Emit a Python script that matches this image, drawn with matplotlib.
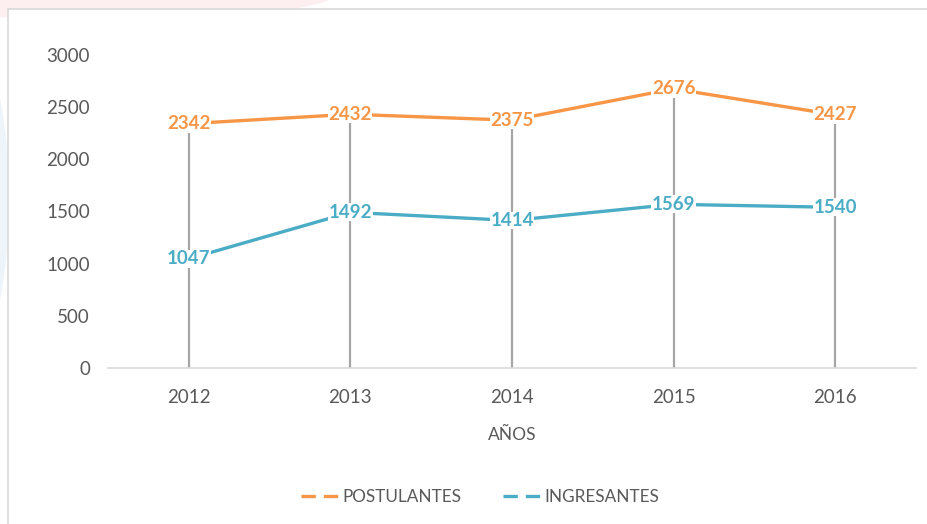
import matplotlib.pyplot as plt
from matplotlib.lines import Line2D
from matplotlib.patches import Rectangle, Ellipse

years = ["2012", "2013", "2014", "2015", "2016"]
postulantes = [2342, 2432, 2375, 2676, 2427]
ingresantes = [1047, 1492, 1414, 1569, 1540]

orange = "#F79646"
blue = "#4BACC6"
gray_txt = "#595959"

plt.rcParams['font.family'] = ['Lato', 'DejaVu Sans']

fig = plt.figure(figsize=(9.27, 5.24), dpi=100)

# faint decoration behind the chart frame
fig.patches.append(Ellipse((0.12, 1.02), 0.5, 0.12, transform=fig.transFigure,
                           facecolor="#FDEFF0", edgecolor="none", zorder=0))
fig.patches.append(Ellipse((-0.05, 0.62), 0.12, 0.7, transform=fig.transFigure,
                           facecolor="#EEF5FA", edgecolor="none", zorder=0))
fig.patches.append(Rectangle((8 / 927, -0.05), 1.0, 1 - 9 / 524 + 0.05,
                             transform=fig.transFigure, facecolor="white",
                             edgecolor="#D9D9D9", linewidth=1.2, zorder=1))

ax = fig.add_axes([108 / 927, 1 - 368 / 524, (916 - 108) / 927, (368 - 55) / 524])
ax.set_zorder(2)
ax.patch.set_visible(False)

x = list(range(len(years)))
tops = [max(p, i) for p, i in zip(postulantes, ingresantes)]
ax.vlines(x, 0, tops, color="#A6A6A6", linewidth=1.6, zorder=1)

ax.plot(x, postulantes, color=orange, linewidth=2.4, zorder=2, solid_capstyle="round")
ax.plot(x, ingresantes, color=blue, linewidth=2.4, zorder=2, solid_capstyle="round")

for xi, v in zip(x, postulantes):
    ax.text(xi, v, str(v), ha="center", va="center", color=orange, fontsize=13.5,
            fontweight="bold", zorder=3,
            bbox=dict(facecolor="white", edgecolor="none", pad=0.3))
for xi, v in zip(x, ingresantes):
    ax.text(xi, v, str(v), ha="center", va="center", color=blue, fontsize=13.5,
            fontweight="bold", zorder=3,
            bbox=dict(facecolor="white", edgecolor="none", pad=0.3))

ax.set_xlim(-0.5, len(years) - 0.5)
ax.set_ylim(0, 3000)
ax.set_yticks(range(0, 3001, 500))
ax.set_xticks(x)
ax.set_xticklabels(years)
ax.tick_params(axis="both", length=0, labelsize=13.5, labelcolor=gray_txt)
ax.tick_params(axis="x", pad=15)
ax.tick_params(axis="y", pad=13)
for s in ["top", "right", "left"]:
    ax.spines[s].set_visible(False)
ax.spines["bottom"].set_color("#D9D9D9")
ax.spines["bottom"].set_linewidth(1.2)

ax.set_xlabel("AÑOS", fontsize=12.5, color=gray_txt, labelpad=15)

handles = [Line2D([], [], color=orange, linewidth=2.4, dashes=(4.3, 2.4)),
           Line2D([], [], color=blue, linewidth=2.4, dashes=(4.3, 2.4))]
fig.legend(handles, ["POSTULANTES", "INGRESANTES"], loc="center",
           bbox_to_anchor=(480 / 927, 1 - 497 / 524), ncol=2, frameon=False,
           fontsize=12.3, labelcolor=gray_txt, handlelength=2.3, handletextpad=0.15,
           columnspacing=2.4)

fig.savefig("out.png", dpi=100)
